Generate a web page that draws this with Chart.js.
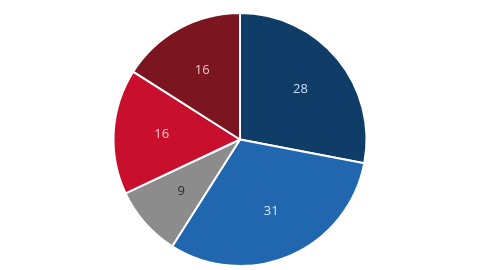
<!DOCTYPE html>
<html>
<head>
<meta charset="utf-8">
<script src="https://cdn.jsdelivr.net/npm/chart.js@4"></script>
<style>
  html, body { margin: 0; padding: 0; background: #fff; }
  #box { width: 480px; height: 270px; }
</style>
</head>
<body>
<div id="box"><canvas id="pie"></canvas></div>
<script>
// dados da pizza (sentido horario a partir do topo)
const categorias = ['A', 'B', 'C', 'D', 'E']
const valores = [28, 31, 9, 16, 16]
const cores = ['#0f3d68', '#2067b0', '#8c8c8c', '#c8102e', '#7b1520']
const coresTexto = ['#c3dbf2', '#d6e6f8', '#2e2e2e', '#f5c3cb', '#ecc3c8']

// escreve os valores dentro de cada fatia
const rotulos = {
    id: 'rotulos',
    afterDatasetsDraw(chart) {
        const ctx = chart.ctx
        const meta = chart.getDatasetMeta(0)
        ctx.save()
        ctx.font = '13px "Open Sans", sans-serif'
        ctx.textAlign = 'center'
        ctx.textBaseline = 'middle'
        meta.data.forEach((arc, i) => {
            const p = arc.getProps(['x', 'y', 'startAngle', 'endAngle', 'outerRadius'])
            const meio = (p.startAngle + p.endAngle) / 2
            const r = p.outerRadius * 0.62
            ctx.fillStyle = coresTexto[i]
            ctx.fillText(valores[i], p.x + Math.cos(meio) * r, p.y + Math.sin(meio) * r)
        })
        ctx.restore()
    }
}

const ctx = document.getElementById('pie').getContext('2d')
new Chart(ctx, {
    type: 'pie',
    data: {
        labels: categorias,
        datasets: [{
            data: valores,
            backgroundColor: cores,
            borderColor: '#ffffff',
            borderWidth: 2
        }]
    },
    options: {
        responsive: true,
        maintainAspectRatio: false,
        animation: false,
        layout: { padding: { top: 12, bottom: 3 } },
        plugins: {
            legend: { display: false },
            tooltip: { enabled: false }
        }
    },
    plugins: [rotulos]
})
</script>
</body>
</html>
